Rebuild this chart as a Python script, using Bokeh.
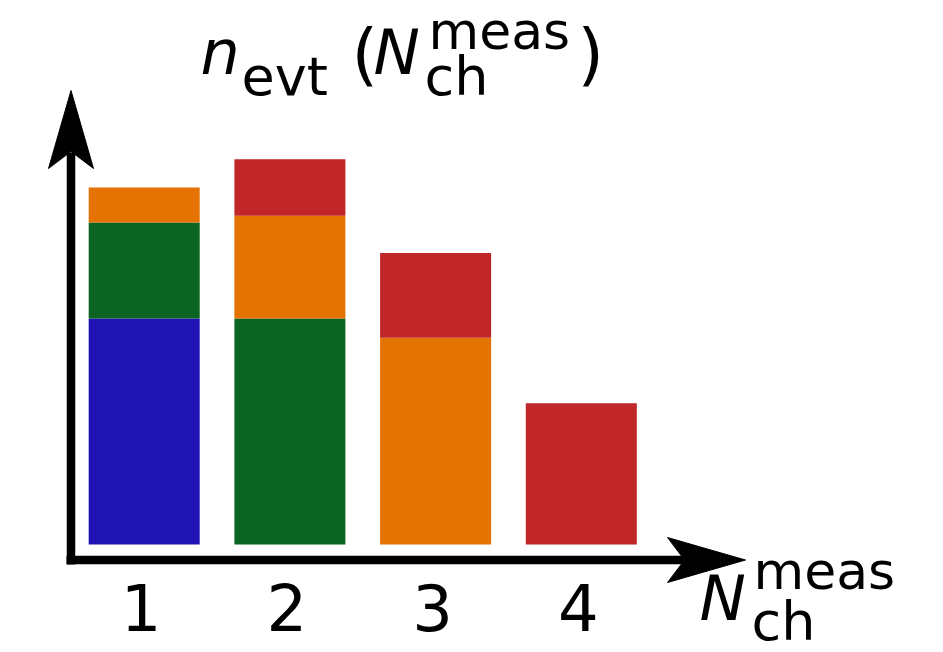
from bokeh.plotting import figure
from bokeh.models import Range1d, ColumnDataSource
from bokeh.core.properties import value
from bokeh.embed import file_html
from bokeh.resources import INLINE

# Events per measured charged multiplicity, split by true multiplicity
n_meas = [1, 2, 3, 4]
tick_labels = ["1", "2", "3", "4"]
true_1 = [100.0, 0.0, 0.0, 0.0]
true_2 = [42.5, 100.0, 0.0, 0.0]
true_3 = [15.5, 45.5, 91.5, 0.0]
true_4 = [0.0, 25.0, 37.5, 62.5]
series = ["true_1", "true_2", "true_3", "true_4"]
colors = ["#1f13b4", "#0b6422", "#e57303", "#c12729"]

W, H = 943, 652
# pixel <-> data mapping of the frame (frame covers the whole canvas)
PX_AT_1 = 143.7   # pixel column of n_meas = 1
PX_PER_X = 145.7  # pixels per unit of n_meas
PY_BASE = 544.0   # pixel row of zero events
PX_PER_Y = 2.26   # pixels per event unit
BASE_SHIFT = 0.38  # em offset of the drawn baseline relative to the anchor


def fx(px):
    return 1 + (px - PX_AT_1) / PX_PER_X


def fy(py):
    return (PY_BASE - py) / PX_PER_Y


p = figure(width=W, height=H, output_backend="svg", toolbar_location=None,
           x_range=Range1d(fx(0), fx(W)), y_range=Range1d(fy(H), fy(0)),
           x_axis_type=None, y_axis_type=None, min_border=0,
           outline_line_color=None, background_fill_color="white",
           border_fill_color="white")
p.xgrid.visible = False
p.ygrid.visible = False

source = ColumnDataSource(dict(x=n_meas, true_1=true_1, true_2=true_2,
                               true_3=true_3, true_4=true_4))
p.vbar_stack(series, x="x", width=0.762, color=colors, line_color=None,
             source=source)

# axis lines with arrow heads
AX_X, AX_Y, LW = 70.5, 559.5, 8.5
p.segment(x0=[fx(AX_X), fx(66)], y0=[fy(564), fy(AX_Y)],
          x1=[fx(AX_X), fx(690)], y1=[fy(152), fy(AX_Y)],
          line_width=LW, line_color="black", line_cap="butt")
head_len, head_half, notch = 78, 22.5, 61
up = ([fx(AX_X), fx(AX_X + head_half), fx(AX_X), fx(AX_X - head_half)],
      [fy(90), fy(90 + head_len), fy(90 + notch), fy(90 + head_len)])
tip_x = 745
right = ([fx(tip_x), fx(tip_x - head_len), fx(tip_x - notch), fx(tip_x - head_len)],
         [fy(AX_Y), fy(AX_Y - head_half), fy(AX_Y), fy(AX_Y + head_half)])
p.patches(xs=[up[0], right[0]], ys=[up[1], right[1]], fill_color="black",
          line_color="black", line_width=1)

FONT = value("DejaVu Sans")

# tick labels along the horizontal axis
TICK_SIZE = 64
p.text(x=n_meas, y=[fy(631 - BASE_SHIFT * TICK_SIZE)] * 4, text=tick_labels,
       text_font=FONT, text_font_size=value(f"{TICK_SIZE}px"),
       text_align="center", text_baseline="alphabetic", x_offset=-3,
       text_color="black")


def word(px, py, s, size, italic=False):
    p.text(x=[fx(px)], y=[fy(py - BASE_SHIFT * size)], text=[s], text_font=FONT,
           text_font_size=value(f"{size}px"),
           text_font_style=value("italic" if italic else "normal"),
           text_align="left", text_baseline="alphabetic", text_color="black")


# y-axis title: n_evt (N_ch^meas)
T = 4  # vertical offset of the whole title block
word(200, 72 + T, "n", 62, italic=True)
word(241, 93 + T, "evt", 54)
word(351, 76 + T, "(", 68)
word(373, 72 + T, "N", 62, italic=True)
word(428, 50, "meas", 52)
word(424, 93 + T, "ch", 54)
word(577, 76 + T, ")", 68)

# x-axis title: N_ch^meas
word(699, 622, "N", 62, italic=True)
word(753, 590, "meas", 52)
word(751, 642, "ch", 54)

open("out.html", "w").write(file_html(p, INLINE))
